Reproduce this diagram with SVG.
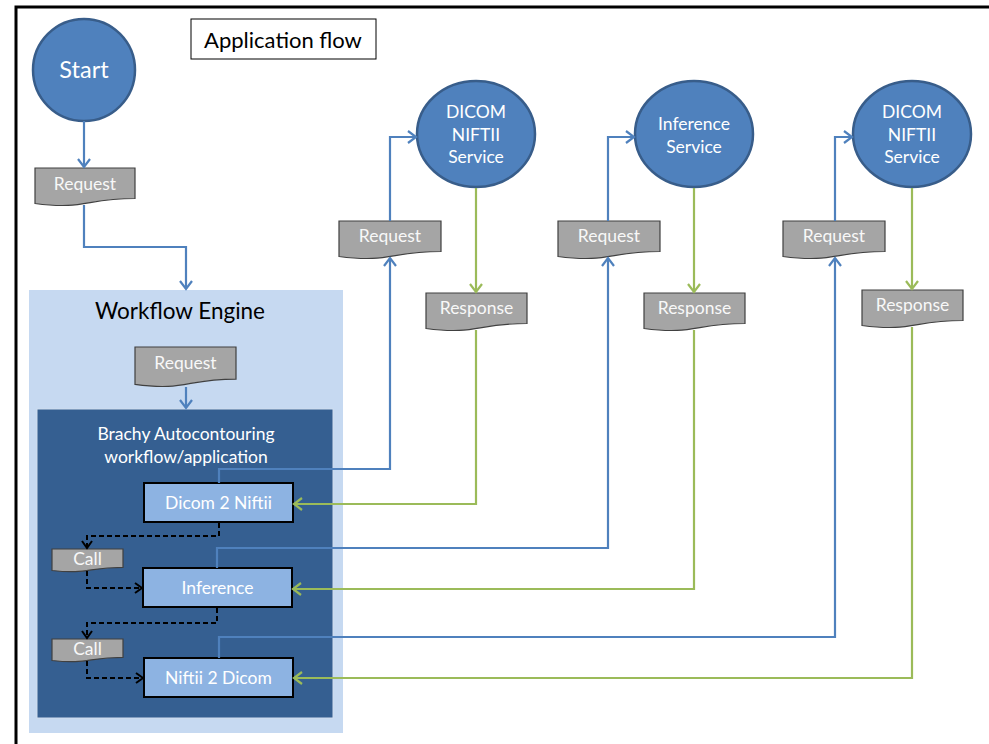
<svg xmlns="http://www.w3.org/2000/svg" width="989" height="744" viewBox="0 0 989 744">
<style>
text{font-family:Lato,"Open Sans","Liberation Sans",sans-serif;text-anchor:middle}
.w{fill:#FFFFFF}
.lt{fill:#F8F8F8;font-size:17.5px}
.circ{fill:#4F81BD;stroke:#385D8A;stroke-width:2.5}
.doc{fill:#A5A5A5;stroke:#404040;stroke-width:1.2}
.box{fill:#8DB3E2;stroke:#000000;stroke-width:2}
.blue{fill:none;stroke:#4F81BD;stroke-width:2.2;marker-end:url(#ab)}
.green{fill:none;stroke:#9BBB59;stroke-width:2.2;marker-end:url(#ag)}
.dash{fill:none;stroke:#000000;stroke-width:2;stroke-dasharray:5 3;marker-end:url(#ak)}
</style>
<defs>
<marker id="ab" markerUnits="userSpaceOnUse" markerWidth="20" markerHeight="20" viewBox="-10 -10 20 20" refX="0" refY="0" orient="auto" overflow="visible"><path d="M-8,-6 L0,0 L-8,6" fill="none" stroke="#4F81BD" stroke-width="2.2"/></marker>
<marker id="ag" markerUnits="userSpaceOnUse" markerWidth="20" markerHeight="20" viewBox="-10 -10 20 20" refX="0" refY="0" orient="auto" overflow="visible"><path d="M-8,-6 L0,0 L-8,6" fill="none" stroke="#9BBB59" stroke-width="2.2"/></marker>
<marker id="ak" markerUnits="userSpaceOnUse" markerWidth="20" markerHeight="20" viewBox="-10 -10 20 20" refX="0" refY="0" orient="auto" overflow="visible"><path d="M-7,-5 L0,0 L-7,5" fill="none" stroke="#000000" stroke-width="2"/></marker>
</defs>
<rect x="0" y="0" width="989" height="744" fill="#FFFFFF"/>
<path d="M16,744 V7 H989" fill="none" stroke="#000000" stroke-width="3"/>

<g id="title">
<rect x="191" y="19" width="185" height="40" fill="#FFFFFF" stroke="#000000" stroke-width="1"/>
<text x="283" y="48" font-size="22" fill="#000000">Application flow</text>
</g>

<g id="workflow-engine">
<rect x="29" y="290" width="314" height="443" fill="#C6D9F1"/>
<text x="180" y="319" font-size="22.5" fill="#000000">Workflow Engine</text>
</g>

<g id="brachy-app">
<rect x="37" y="409" width="296" height="309" fill="#355F91" stroke="#D0DDEE" stroke-width="1"/>
<text class="w" x="186" y="440" font-size="17.5">Brachy Autocontouring</text>
<text class="w" x="186" y="463" font-size="17.5">workflow/application</text>
</g>

<g id="start">
<circle class="circ" cx="84" cy="70" r="51"/>
<text class="w" x="84" y="78" font-size="23.5">Start</text>
</g>

<g id="request-0">
<path class="doc" d="M35,168 H135 V198.5 C85,198.5 85,210.1 35,203.5 Z"/>
<text class="lt" x="85" y="190">Request</text>
</g>

<g id="request-wf">
<path class="doc" d="M135,347 H236 V379.1 C185.5,379.1 185.5,391.3 135,384.4 Z"/>
<text class="lt" x="185.5" y="369">Request</text>
</g>

<g id="dicom2niftii">
<rect class="box" x="144" y="483" width="149" height="39"/>
<text class="w" x="218.5" y="509" font-size="17.5">Dicom 2 Niftii</text>
</g>

<g id="inference">
<rect class="box" x="143" y="568" width="149" height="39"/>
<text class="w" x="217.5" y="594" font-size="17.5">Inference</text>
</g>

<g id="niftii2dicom">
<rect class="box" x="144" y="658" width="149" height="39"/>
<text class="w" x="218.5" y="684" font-size="17.5">Niftii 2 Dicom</text>
</g>

<g id="call-1">
<path class="doc" d="M52,549 H123 V567.4 C87.5,567.4 87.5,574.5 52,570.5 Z"/>
<text class="lt" x="87.5" y="565" font-size="16.5">Call</text>
</g>

<g id="call-2">
<path class="doc" d="M52,639 H123 V657.4 C87.5,657.4 87.5,664.5 52,660.5 Z"/>
<text class="lt" x="87.5" y="655" font-size="16.5">Call</text>
</g>

<g id="dicom-niftii-service-1">
<ellipse class="circ" cx="476" cy="134" rx="59" ry="53"/>
<text class="w" x="476" y="118" font-size="17.5">DICOM</text>
<text class="w" x="476" y="141" font-size="17.5">NIFTII</text>
<text class="w" x="476" y="163" font-size="17.5">Service</text>
</g>

<g id="inference-service">
<ellipse class="circ" cx="694" cy="134" rx="59" ry="53"/>
<text class="w" x="694" y="130" font-size="17.5">Inference</text>
<text class="w" x="694" y="153" font-size="17.5">Service</text>
</g>

<g id="dicom-niftii-service-2">
<ellipse class="circ" cx="912" cy="134" rx="59" ry="53"/>
<text class="w" x="912" y="118" font-size="17.5">DICOM</text>
<text class="w" x="912" y="141" font-size="17.5">NIFTII</text>
<text class="w" x="912" y="163" font-size="17.5">Service</text>
</g>

<g id="request-1">
<path class="doc" d="M339,221 H441 V251.5 C390,251.5 390,263.1 339,256.5 Z"/>
<text class="lt" x="390" y="242">Request</text>
</g>
<g id="request-2">
<path class="doc" d="M558,221 H660 V251.5 C609,251.5 609,263.1 558,256.5 Z"/>
<text class="lt" x="609" y="242">Request</text>
</g>
<g id="request-3">
<path class="doc" d="M783,221 H885 V251.5 C834,251.5 834,263.1 783,256.5 Z"/>
<text class="lt" x="834" y="242">Request</text>
</g>

<g id="response-1">
<path class="doc" d="M426,293 H527 V323.5 C476.5,323.5 476.5,335.1 426,328.5 Z"/>
<text class="lt" x="476.5" y="314">Response</text>
</g>
<g id="response-2">
<path class="doc" d="M644,293 H745 V323.5 C694.5,323.5 694.5,335.1 644,328.5 Z"/>
<text class="lt" x="694.5" y="314">Response</text>
</g>
<g id="response-3">
<path class="doc" d="M862,290 H963 V320.5 C912.5,320.5 912.5,332.1 862,325.5 Z"/>
<text class="lt" x="912.5" y="311">Response</text>
</g>

<g id="connectors">
<path class="blue" d="M84,121 V167"/>
<path class="blue" d="M84,205 V247 H186 V289"/>
<path class="blue" d="M186,387 V408"/>
<path class="blue" d="M219,483 V469 H390 V258"/>
<path class="blue" d="M390,221 V137 H416"/>
<path class="blue" d="M217,568 V548 H608 V258"/>
<path class="blue" d="M608,221 V137 H634"/>
<path class="blue" d="M219,658 V637 H835 V258"/>
<path class="blue" d="M835,221 V137 H852"/>
<path class="green" d="M476,188 V292"/>
<path class="green" d="M476,330 V504 H294"/>
<path class="green" d="M694,188 V292"/>
<path class="green" d="M694,330 V589 H293"/>
<path class="green" d="M912,188 V289"/>
<path class="green" d="M912,327 V678 H294"/>
<path class="dash" d="M219,523 V536 H87 V548"/>
<path class="dash" d="M87,571 V588 H142"/>
<path class="dash" d="M217,608 V623 H87 V638"/>
<path class="dash" d="M87,661 V678 H143"/>
</g>
</svg>
